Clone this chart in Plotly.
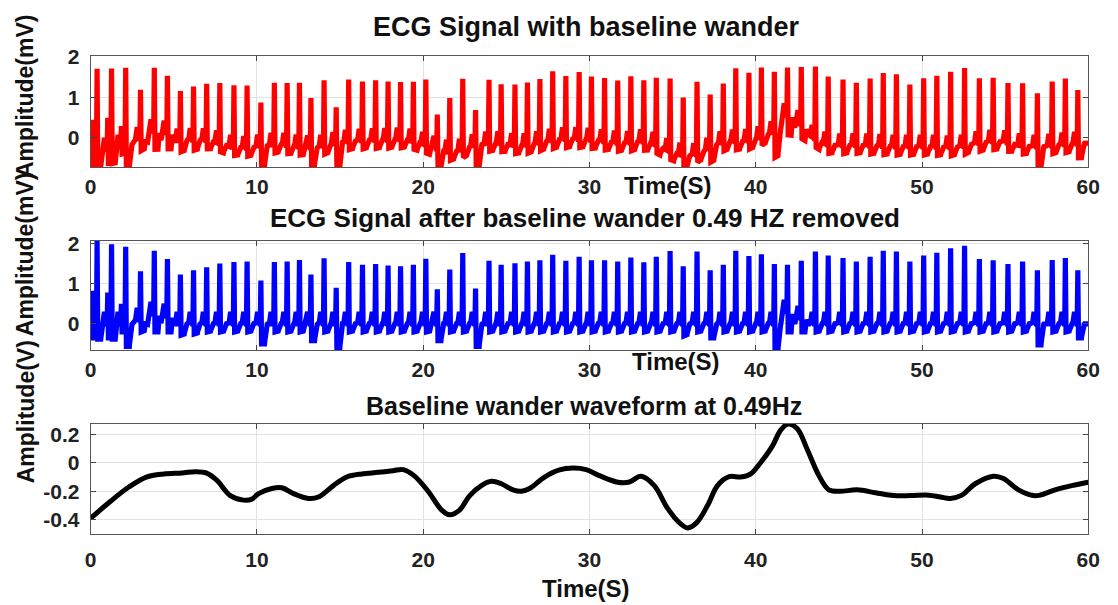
import numpy as np
import plotly.graph_objects as go

# ---------------- data ----------------
# R-peak times (s) and heights (mV) of the baseline-corrected ECG (middle panel)
beat_times = [0.14, 0.39, 1.03, 1.26, 1.85, 2.11, 3.0, 3.83, 4.62, 5.40, 6.19, 6.98, 7.77, 8.62, 9.41,
              10.24, 11.05, 11.82, 12.56, 13.25, 14.04, 14.77, 15.52, 16.35, 17.14, 17.89, 18.64, 19.41, 20.16,
              20.85, 21.6, 22.38, 23.15, 23.96, 24.69, 25.52, 26.27, 27.02, 27.79, 28.58, 29.38,
              30.12, 30.91, 31.70, 32.49, 33.27, 34.02, 34.85, 35.64, 36.47, 37.26, 38.05, 38.80, 39.59, 40.34,
              41.12, 41.91, 42.74, 43.59, 44.36, 45.25, 46.05, 46.88, 47.67, 48.46, 49.27,
              50.10, 50.89, 51.72, 52.56, 53.45, 54.28, 55.17, 56.05, 56.94, 57.83, 58.62, 59.37]
r_heights = [0.82, 2.06, 0.78, 1.98, 0.5, 1.92, 1.31, 1.82, 1.61, 1.23, 1.33, 1.41, 1.50, 1.54, 1.55,
             1.08, 1.54, 1.55, 1.59, 1.23, 1.63, 0.90, 1.54, 1.47, 1.49, 1.45, 1.43, 1.47, 1.62,
             0.86, 1.35, 1.76, 0.88, 1.57, 1.47, 1.51, 1.55, 1.58, 1.72, 1.57, 1.67,
             1.58, 1.58, 1.55, 1.65, 1.53, 1.67, 1.81, 1.43, 1.80, 1.33, 1.47, 1.82, 1.69, 1.73,
             1.49, 1.47, 1.57, 1.80, 1.70, 1.64, 1.55, 1.67, 1.82, 1.80, 1.55,
             1.70, 1.77, 1.88, 1.94, 1.61, 1.58, 1.49, 1.55, 1.33, 1.59, 1.64, 1.33]
# S-wave / post-beat trough depths (mV) where they differ from the usual -0.2
s_dip_times = [0.14, 0.39, 1.03, 1.26, 2.11, 5.40, 6.19, 10.24, 13.25, 14.77, 20.85, 23.15,
               35.64, 37.26, 41.12, 56.94, 59.37]
s_dip_values = [-0.35, -0.38, -0.35, -0.38, -0.56, -0.28, -0.25, -0.50, -0.42, -0.60, -0.42, -0.56,
                -0.30, -0.35, -0.64, -0.52, -0.35]
# local iso-electric level shifts (mV) of the corrected ECG
level_times = [3.0, 3.83, 4.62, 41.91, 42.74]
level_values = [0.10, 0.25, 0.20, 0.30, 0.15]

# Baseline wander waveform (bottom panel), V
base_t = [0, 1.2, 2.3, 3.35, 4.4, 5.5, 6.3, 6.95, 7.6, 8.4, 9.2, 9.7, 10.1, 10.9, 11.5, 12.2, 13.1, 13.7,
          14.6, 15.4, 16.3, 17.3, 18.2, 18.8, 19.45, 20.3, 21.1, 21.6, 22.2, 22.8, 23.5, 24.1, 24.7, 25.4,
          25.9, 26.4, 27.3, 28.2, 29.0, 29.8, 30.6, 31.7, 32.4, 33.1, 33.9, 34.7, 35.4, 35.9, 36.45, 37.1,
          37.7, 38.4, 39.1, 39.7, 40.3, 41.0, 41.5, 41.95, 42.5, 43.1, 43.8, 44.4, 45.05, 46.1, 47.2, 48.3,
          49.35, 50.4, 51.1, 51.7, 52.4, 53.2, 54.3, 54.9, 55.8, 56.7, 57.1, 58.0, 59.0, 60.0]
base_v = [-0.39, -0.27, -0.17, -0.10, -0.078, -0.071, -0.062, -0.071, -0.124, -0.23, -0.262, -0.255,
          -0.216, -0.18, -0.175, -0.216, -0.25, -0.24, -0.16, -0.10, -0.078, -0.067, -0.055, -0.048,
          -0.09, -0.20, -0.33, -0.365, -0.33, -0.23, -0.16, -0.13, -0.147, -0.19, -0.20, -0.18, -0.10,
          -0.05, -0.037, -0.048, -0.09, -0.136, -0.135, -0.094, -0.16, -0.32, -0.42, -0.457, -0.42, -0.30,
          -0.16, -0.097, -0.10, -0.078, 0.002, 0.117, 0.23, 0.272, 0.24, 0.094, -0.09, -0.19, -0.20, -0.19,
          -0.21, -0.23, -0.23, -0.227, -0.24, -0.25, -0.227, -0.147, -0.094, -0.11, -0.19, -0.23, -0.227,
          -0.19, -0.16, -0.136]

x_ticks = [0, 10, 20, 30, 40, 50, 60]
ecg_ticks = [0, 1, 2]
base_ticks = [0.2, 0, -0.2, -0.4]
base_tick_text = ["0.2", "0", "-0.2", "-0.4"]

# ---------------- build the ECG traces from the beat features ----------------
bt = np.array(beat_times)
t = np.round(np.arange(0, 60.0001, 0.01), 4)
mids = (bt[:-1] + bt[1:]) / 2
idx = np.searchsorted(mids, t)
dip_map = dict(zip(s_dip_times, s_dip_values))
lvl_map = dict(zip(level_times, level_values))
offs = [-0.40, -0.30, -0.20, -0.12, -0.04, 0.0, 0.04, 0.22, 0.30, 0.40]
clean = np.zeros_like(t)
for i, (tb, h) in enumerate(zip(beat_times, r_heights)):
    s = dip_map.get(tb, -0.2)
    L = lvl_map.get(tb, 0.0)
    vals = [0, L, 0.30 + L, 0.05 + L, -0.05 + L, h, s, s, -0.05 + L, 0]
    m = idx == i
    clean[m] = np.interp(t[m] - tb, offs, vals)
wander = np.interp(t, base_t, base_v)
noisy = clean + wander

# ---------------- figure ----------------
W, H = 1118, 605
FONT = "Liberation Sans, Arial, Helvetica, sans-serif"

def py(px):
    return 1 - px / H

def px_x(px):
    return px / W

fig = go.Figure()
fig.add_trace(go.Scatter(x=t, y=noisy, mode="lines", line=dict(color="#ff0000", width=5.2),
                         xaxis="x", yaxis="y", showlegend=False))
fig.add_trace(go.Scatter(x=t, y=clean, mode="lines", line=dict(color="#0000ff", width=5.2),
                         xaxis="x2", yaxis="y2", showlegend=False))
fig.add_trace(go.Scatter(x=base_t, y=base_v, mode="lines",
                         line=dict(color="#000000", width=5, shape="spline", smoothing=1.0),
                         xaxis="x3", yaxis="y3", showlegend=False))

xdom = [px_x(86), px_x(1100)]
common_x = dict(range=[0, 60], tickvals=x_ticks, showgrid=True, gridcolor="#e3e3e3", gridwidth=1,
                zeroline=False, showline=True, linecolor="#555555", linewidth=1, mirror="ticks",
                ticks="inside", ticklen=5, tickcolor="#444444", domain=xdom,
                tickfont=dict(family=FONT, size=21, color="#222222", weight="bold"))
common_y = dict(showgrid=True, gridcolor="#e3e3e3", gridwidth=1, zeroline=False, showline=True,
                linecolor="#555555", linewidth=1, mirror="ticks", ticks="inside", ticklen=5,
                tickcolor="#444444", ticklabelstandoff=6,
                tickfont=dict(family=FONT, size=21, color="#222222", weight="bold"))

fig.update_layout(
    width=W, height=H, margin=dict(l=0, r=0, t=0, b=0),
    paper_bgcolor="white", plot_bgcolor="white",
    xaxis=dict(common_x, anchor="y", ticklabelstandoff=1),
    yaxis=dict(common_y, anchor="x", domain=[py(159), py(46)], range=[-0.73, 2.02], tickvals=ecg_ticks),
    xaxis2=dict(common_x, anchor="y2", ticklabelstandoff=0),
    yaxis2=dict(common_y, anchor="x2", domain=[py(345.7), py(234.3)], range=[-0.66, 2.06], tickvals=ecg_ticks),
    xaxis3=dict(common_x, anchor="y3", ticklabelstandoff=7),
    yaxis3=dict(common_y, anchor="x3", domain=[py(532.7), py(420.3)], range=[-0.5, 0.275],
                tickvals=base_ticks, ticktext=base_tick_text),
)

def ann(text, x, y, size, angle=0):
    fig.add_annotation(text=text, x=px_x(x), y=py(y), xref="paper", yref="paper", showarrow=False,
                       xanchor="center", yanchor="middle", textangle=angle,
                       font=dict(family=FONT, size=size, color="#111111", weight="bold"))

ann("ECG Signal with baseline wander", 590, 16, 27)
ann("ECG Signal after baseline wander 0.49 HZ removed", 588, 211, 26)
ann("Baseline wander waveform at 0.49Hz", 587, 402, 25)
ann("Time(S)", 673, 178, 24)
ann("Time(S)", 681, 357, 24)
ann("Time(S)", 589, 588, 24)
ann("Amplitude(mV)", 20, 87, 23, -90)
ann("Amplitude(mV)", 20, 248, 23, -90)
ann("Amplitude(V)", 20, 408, 23, -90)

fig.write_html("out.html")
